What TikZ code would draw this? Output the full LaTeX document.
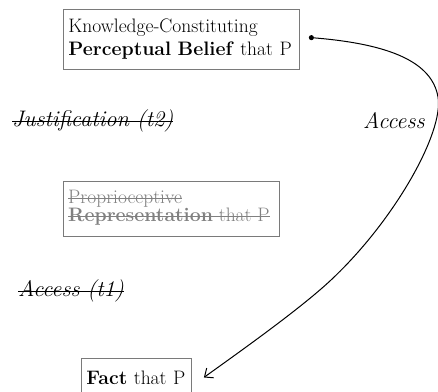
\documentclass[tikz,border=0pt]{standalone}
\usepackage{fontspec}
\usetikzlibrary{arrows.meta,calc}
\newsavebox{\mystrikebox}
\newcommand{\mystrike}[1]{\sbox{\mystrikebox}{#1}\rlap{\rule[0.5ex]{\wd\mystrikebox}{0.8pt}}\usebox{\mystrikebox}}
\definecolor{boxgray}{HTML}{7A7A7A}
\definecolor{txtgray}{HTML}{808080}
\begin{document}
\begin{tikzpicture}[x=1pt,y=-1pt,
  every node/.style={font=\fontsize{19.5}{23}\selectfont},
  frame/.style={draw=boxgray,line width=0.9pt,anchor=north west,inner xsep=5pt,inner ysep=0pt,align=left},
  lbl/.style={font=\fontsize{22.5}{26}\selectfont\itshape,inner sep=0pt},
  gtxt/.style={text=txtgray,inner sep=0pt,anchor=base west},
  conn/.style={line width=1pt,{Circle[length=5pt]}-{Straight Barb[length=7pt,width=12pt]}}]
\clip (0,0) rectangle (438,391);
\node[frame,minimum width=236pt,minimum height=60pt,text width=226pt] (kb) at (63,9)
  {Knowledge-Constituting\\\textbf{Perceptual Belief} that P};
\node[lbl,anchor=west] (just) at (12,121) {\mystrike{Justification (t2)}};
\node[lbl,anchor=west] (acc) at (363,121) {Access};
\node[frame,minimum width=216pt,minimum height=55pt] (prop) at (63,181) {};
\node[gtxt] (prop1) at ($(prop.north west)+(5,22)$) {\mystrike{Proprioceptive}};
\node[gtxt] (prop2) at ($(prop1.base west)+(0,18)$) {\mystrike{\textbf{Representation} that P}};
\node[lbl,anchor=west] (acc1) at (18,291) {\mystrike{Access (t1)}};
\node[frame,minimum width=110pt,minimum height=38pt,text width=100pt] (fact) at (81,358)
  {\textbf{Fact} that P};
\coordinate (start) at ($(kb.east)+(9,-2)$);
\coordinate (tip) at ($(fact.east)+(12,0)$);
\draw[conn] (start) .. controls (390,44) and (432,62) .. (438,97)
  .. controls (444,132) and (395,220) .. (331,280)
  .. controls (299,310) and (235,355) .. (tip);
\end{tikzpicture}
\end{document}
